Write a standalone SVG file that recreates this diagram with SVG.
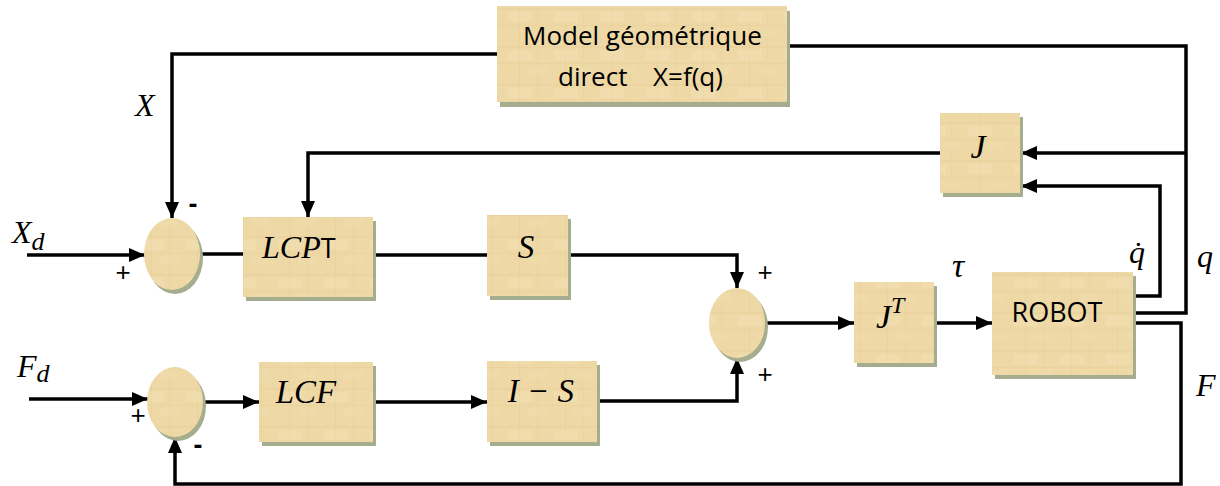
<svg xmlns="http://www.w3.org/2000/svg" width="1220" height="486" viewBox="0 0 1220 486">
  <defs>
    <!-- parchment fill for the blocks -->
    <pattern id="paper" width="46" height="38" patternUnits="userSpaceOnUse">
      <rect width="46" height="38" fill="#eed8a5"/>
      <rect x="0" y="8" width="46" height="1.5" fill="#d9bf88" opacity="0.22"/>
      <rect x="0" y="25" width="46" height="1" fill="#d9bf88" opacity="0.18"/>
      <rect x="13" y="0" width="1" height="38" fill="#d9bf88" opacity="0.18"/>
      <rect x="31" y="0" width="1.5" height="38" fill="#d9bf88" opacity="0.15"/>
      <rect x="2" y="12" width="24" height="10" fill="#f5e5bd" opacity="0.3"/>
      <rect x="22" y="28" width="18" height="8" fill="#f3e1b3" opacity="0.25"/>
    </pattern>
    <marker id="arrow" markerUnits="userSpaceOnUse" markerWidth="17" markerHeight="14" refX="16" refY="7" orient="auto">
      <path d="M0,0 L16,7 L0,14 z" fill="#000"/>
    </marker>
    <style>
      .box { fill: url(#paper); }
      .shadow { fill: #a4ae8e; }
      .wire { fill: none; stroke: #000; stroke-width: 3.5; }
      .arr { marker-end: url(#arrow); }
      .sans { font-family: "Open Sans", "Liberation Sans", sans-serif; fill: #000; }
      .math { font-family: "Liberation Serif", "DejaVu Serif", serif; font-style: italic; fill: #000; }
      .sign { font-family: "Liberation Sans", "Open Sans", sans-serif; font-size: 26px; fill: #000; text-anchor: middle; }
      .minus { font-family: "Open Sans", "Liberation Sans", sans-serif; font-size: 26px; font-weight: bold; fill: #000; text-anchor: middle; }
    </style>
  </defs>

  <rect width="1220" height="486" fill="#fff"/>

  <!-- connectors -->
  <g id="connectors">
    <path class="wire" d="M1133,313 H1186 V46 H787"/>
    <path class="wire arr" d="M497,54 H172 V218"/>
    <path class="wire arr" d="M1186,153 H1021"/>
    <path class="wire arr" d="M1133,296 H1160 V186 H1021"/>
    <path class="wire arr" d="M1133,323 H1181 V484 H175 V437"/>
    <path class="wire arr" d="M940,153 H308 V217"/>
    <path class="wire arr" d="M27,255 H145"/>
    <path class="wire" d="M200,254 H243"/>
    <path class="wire" d="M373,255 H487"/>
    <path class="wire arr" d="M568,255 H737 V288"/>
    <path class="wire arr" d="M29,399 H148"/>
    <path class="wire arr" d="M203,402 H259"/>
    <path class="wire arr" d="M373,402 H487"/>
    <path class="wire arr" d="M597,401 H737 V358"/>
    <path class="wire arr" d="M765,323 H854"/>
    <path class="wire arr" d="M934,323 H992"/>
  </g>

  <!-- forward geometric model -->
  <g id="model">
    <rect class="shadow" x="500" y="11" width="290" height="96"/>
    <rect class="box" x="497" y="6" width="290" height="96"/>
    <text class="sans" font-size="26" x="523" y="45">Model géométrique</text>
    <text class="sans" font-size="26" y="86"><tspan x="558">direct</tspan><tspan x="653">X=f(q)</tspan></text>
  </g>

  <!-- position summing junction -->
  <g id="sum-x">
    <ellipse class="shadow" cx="175" cy="258" rx="28" ry="36"/>
    <ellipse class="box" cx="172" cy="254" rx="28" ry="36"/>
    <text class="sign" x="123" y="281">+</text>
    <text class="minus" x="193" y="213">-</text>
  </g>

  <!-- force summing junction -->
  <g id="sum-f">
    <ellipse class="shadow" cx="178" cy="406" rx="28" ry="35"/>
    <ellipse class="box" cx="175" cy="402" rx="28" ry="35"/>
    <text class="sign" x="138" y="424">+</text>
    <text class="minus" x="198" y="454">-</text>
  </g>

  <!-- output summing junction -->
  <g id="sum-out">
    <ellipse class="shadow" cx="740" cy="327" rx="28" ry="35"/>
    <ellipse class="box" cx="737" cy="323" rx="28" ry="35"/>
    <text class="sign" x="765" y="281">+</text>
    <text class="sign" x="765" y="383">+</text>
  </g>

  <g id="lcpt">
    <rect class="shadow" x="246" y="221" width="130" height="80"/>
    <rect class="box" x="243" y="217" width="130" height="80"/>
    <text x="262" y="258"><tspan class="math" font-size="32">LCP</tspan><tspan class="sans" font-size="27">T</tspan></text>
  </g>

  <g id="s">
    <rect class="shadow" x="490" y="219" width="81" height="81"/>
    <rect class="box" x="487" y="215" width="81" height="81"/>
    <text class="math" font-size="33" x="526" y="258" text-anchor="middle">S</text>
  </g>

  <g id="lcf">
    <rect class="shadow" x="262" y="366" width="114" height="80"/>
    <rect class="box" x="259" y="362" width="114" height="80"/>
    <text class="math" font-size="33" x="306" y="403" text-anchor="middle">LCF</text>
  </g>

  <g id="i-s">
    <rect class="shadow" x="490" y="365" width="110" height="81"/>
    <rect class="box" x="487" y="361" width="110" height="81"/>
    <text class="math" font-size="33" x="541" y="402" text-anchor="middle">I − S</text>
  </g>

  <g id="j">
    <rect class="shadow" x="943" y="117" width="80" height="80"/>
    <rect class="box" x="940" y="113" width="80" height="80"/>
    <text class="math" font-size="34" x="978" y="158" text-anchor="middle">J</text>
  </g>

  <g id="jt">
    <rect class="shadow" x="857" y="286" width="80" height="81"/>
    <rect class="box" x="854" y="282" width="80" height="81"/>
    <text class="math" x="876" y="328"><tspan font-size="34">J</tspan><tspan font-size="24" dy="-15">T</tspan></text>
  </g>

  <g id="robot">
    <rect class="shadow" x="995" y="276" width="141" height="103"/>
    <rect class="box" x="992" y="272" width="141" height="103"/>
    <text class="sans" font-size="27" x="1057" y="322" text-anchor="middle">ROBOT</text>
  </g>

  <!-- signal labels -->
  <g id="labels">
    <text class="math" x="12" y="243"><tspan font-size="32">X</tspan><tspan font-size="26" dy="7">d</tspan></text>
    <text class="math" x="17" y="377"><tspan font-size="32">F</tspan><tspan font-size="26" dy="5">d</tspan></text>
    <text class="math" font-size="32" x="135" y="116">X</text>
    <text class="math" font-size="34" x="952" y="277">τ</text>
    <text class="math" font-size="32" x="1129" y="263">q̇</text>
    <text class="math" font-size="32" x="1197" y="267">q</text>
    <text class="math" font-size="32" x="1196" y="396">F</text>
  </g>
</svg>
